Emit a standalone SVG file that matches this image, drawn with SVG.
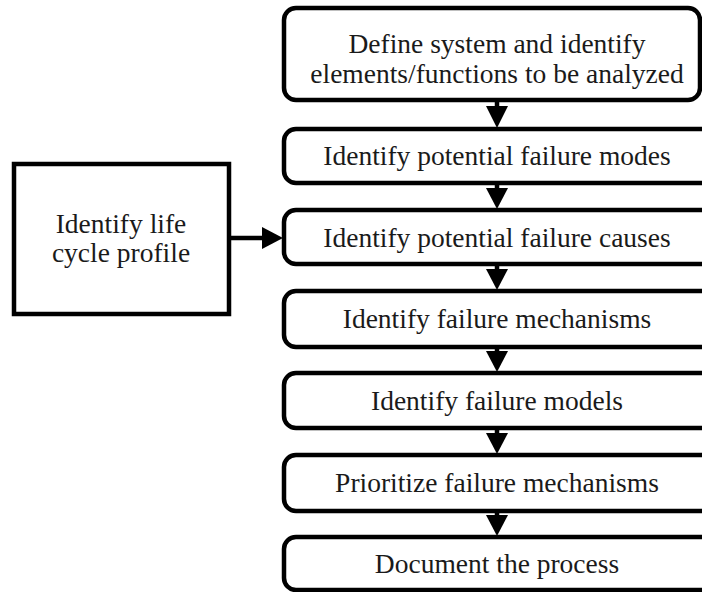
<svg xmlns="http://www.w3.org/2000/svg" width="702" height="592" viewBox="0 0 702 592">
<style>
.box{fill:#fff;stroke:#000;stroke-width:4.5}
.t{font-family:"Liberation Serif","Times New Roman",serif;font-size:27.5px;fill:#1a1a1a;text-anchor:middle}
.c{stroke:#000;stroke-width:4.5;fill:none}
.h{fill:#000}
</style>
<rect width="702" height="592" fill="#fff"/>
<g id="n1"><rect class="box" x="284" y="8" width="416" height="92" rx="12"/><text class="t" x="497" y="53">Define system and identify</text><text class="t" x="497" y="83">elements/functions to be analyzed</text></g>
<g id="n2"><rect class="box" x="284" y="129" width="440" height="54" rx="12"/><text class="t" x="497" y="165">Identify potential failure modes</text></g>
<g id="n3"><rect class="box" x="284" y="210" width="440" height="54" rx="12"/><text class="t" x="497" y="247">Identify potential failure causes</text></g>
<g id="n4"><rect class="box" x="284" y="291" width="440" height="56" rx="12"/><text class="t" x="497" y="328">Identify failure mechanisms</text></g>
<g id="n5"><rect class="box" x="284" y="373" width="440" height="55" rx="12"/><text class="t" x="497" y="410">Identify failure models</text></g>
<g id="n6"><rect class="box" x="284" y="455" width="440" height="56" rx="12"/><text class="t" x="497" y="492">Prioritize failure mechanisms</text></g>
<g id="n7"><rect class="box" x="284" y="537" width="440" height="53" rx="12"/><text class="t" x="497" y="573">Document the process</text></g>
<g id="n0"><rect class="box" x="14" y="164" width="215" height="150"/><text class="t" x="121" y="233">Identify life</text><text class="t" x="121" y="262">cycle profile</text></g>
<g id="connectors">
<line class="c" x1="497" y1="100" x2="497" y2="110"/><path class="h" d="M486 106 L508 106 L497 128 Z"/>
<line class="c" x1="497" y1="183" x2="497" y2="192"/><path class="h" d="M486 188 L508 188 L497 209 Z"/>
<line class="c" x1="497" y1="264" x2="497" y2="273"/><path class="h" d="M486 269 L508 269 L497 290 Z"/>
<line class="c" x1="497" y1="347" x2="497" y2="355"/><path class="h" d="M486 351 L508 351 L497 372 Z"/>
<line class="c" x1="497" y1="428" x2="497" y2="437"/><path class="h" d="M486 433 L508 433 L497 454 Z"/>
<line class="c" x1="497" y1="511" x2="497" y2="519"/><path class="h" d="M486 515 L508 515 L497 536 Z"/>
<line class="c" x1="229" y1="238" x2="266" y2="238"/><path class="h" d="M262 227 L283 238 L262 249 Z"/>
</g>
</svg>
